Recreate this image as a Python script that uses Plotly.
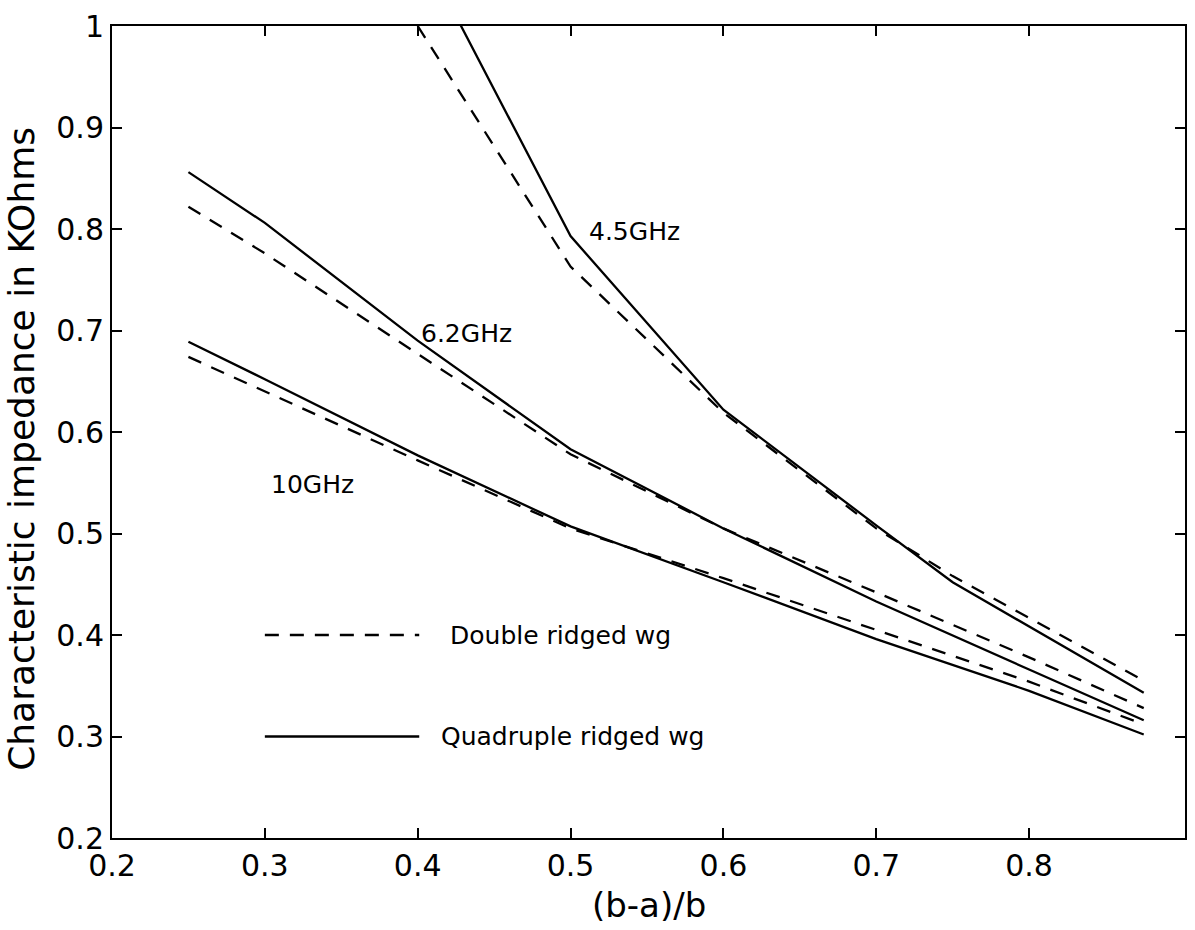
import plotly.graph_objects as go

# ---- data ----
x_45 = [0.4, 0.5, 0.6, 0.7, 0.75, 0.875]
y_45_quad = [1.082, 0.793, 0.622, 0.508, 0.452, 0.343]
y_45_double = [1.0, 0.763, 0.619, 0.505, 0.458, 0.355]

x_62 = [0.25, 0.3, 0.4, 0.5, 0.6, 0.7, 0.8, 0.875]
y_62_quad = [0.856, 0.806, 0.69, 0.583, 0.505, 0.433, 0.366, 0.316]
y_62_double = [0.822, 0.776, 0.677, 0.578, 0.505, 0.442, 0.378, 0.328]

x_10 = [0.25, 0.3, 0.4, 0.5, 0.6, 0.7, 0.8, 0.875]
y_10_quad = [0.689, 0.652, 0.577, 0.507, 0.452, 0.396, 0.345, 0.302]
y_10_double = [0.674, 0.640, 0.572, 0.505, 0.456, 0.405, 0.354, 0.312]

x_ticks = [0.2, 0.3, 0.4, 0.5, 0.6, 0.7, 0.8]
y_ticks = [0.2, 0.3, 0.4, 0.5, 0.6, 0.7, 0.8, 0.9, 1.0]
y_tick_text = ["0.2", "0.3", "0.4", "0.5", "0.6", "0.7", "0.8", "0.9", "1"]

freq_labels = ["4.5GHz", "6.2GHz", "10GHz"]
freq_label_x = [0.511, 0.401, 0.303]
freq_label_y = [0.798, 0.697, 0.548]

legend_names = ["Double ridged wg", "Quadruple ridged wg"]

FONT = "DejaVu Sans, Liberation Sans, Arial, sans-serif"
DASH = "14px,11px"

fig = go.Figure()
series = [
    (x_45, y_45_double, DASH), (x_45, y_45_quad, "solid"),
    (x_62, y_62_double, DASH), (x_62, y_62_quad, "solid"),
    (x_10, y_10_double, DASH), (x_10, y_10_quad, "solid"),
]
for xs, ys, d in series:
    fig.add_trace(go.Scatter(x=xs, y=ys, mode="lines",
                             line=dict(color="black", width=2.3, dash=d),
                             showlegend=False, hoverinfo="skip"))

# legend drawn MATLAB style inside the axes
legend_y = [0.4, 0.3]
legend_dash = [DASH, "solid"]
for name, ly, d in zip(legend_names, legend_y, legend_dash):
    fig.add_trace(go.Scatter(x=[0.3, 0.401], y=[ly, ly], mode="lines",
                             line=dict(color="black", width=2.3, dash=d),
                             showlegend=False, hoverinfo="skip"))

annotations = []
for t, ax, ay in zip(freq_labels, freq_label_x, freq_label_y):
    annotations.append(dict(x=ax, y=ay, xref="x", yref="y", text=t, showarrow=False,
                            xanchor="left", yanchor="middle",
                            font=dict(family=FONT, size=25, color="black")))
legend_text_x = [0.42, 0.414]
for name, lx, ly in zip(legend_names, legend_text_x, legend_y):
    annotations.append(dict(x=lx, y=ly, xref="x", yref="y", text=name, showarrow=False,
                            xanchor="left", yanchor="middle",
                            font=dict(family=FONT, size=25, color="black")))

annotations.append(dict(x=0.5, y=-0.082, xref="paper", yref="paper", text="(b-a)/b",
                        showarrow=False, xanchor="center", yanchor="middle",
                        font=dict(family=FONT, size=34, color="black")))
annotations.append(dict(x=-0.085, y=0.479, xref="paper", yref="paper",
                        text="Characteristic impedance in KOhms", textangle=-90,
                        showarrow=False, xanchor="center", yanchor="middle",
                        font=dict(family=FONT, size=36, color="black")))

fig.update_layout(
    width=1195, height=930,
    margin=dict(l=112, r=8, t=21, b=92),
    paper_bgcolor="white", plot_bgcolor="white",
    annotations=annotations,
    font=dict(family=FONT, color="black"),
)
fig.update_xaxes(range=[0.2, 0.902], tickvals=x_ticks, ticktext=[f"{v:.1f}" for v in x_ticks],
                 ticks="inside", ticklen=10, tickwidth=2, tickcolor="black",
                 showline=True, linecolor="black", linewidth=2, mirror="allticks",
                 showgrid=False, zeroline=False,
                 tickfont=dict(family=FONT, size=30, color="black"))
fig.update_yaxes(range=[0.2, 1.0], tickvals=y_ticks, ticktext=y_tick_text,
                 ticks="inside", ticklen=10, tickwidth=2, tickcolor="black",
                 showline=True, linecolor="black", linewidth=2, mirror="allticks",
                 showgrid=False, zeroline=False,
                 tickfont=dict(family=FONT, size=30, color="black"))

fig.write_html("out.html")
